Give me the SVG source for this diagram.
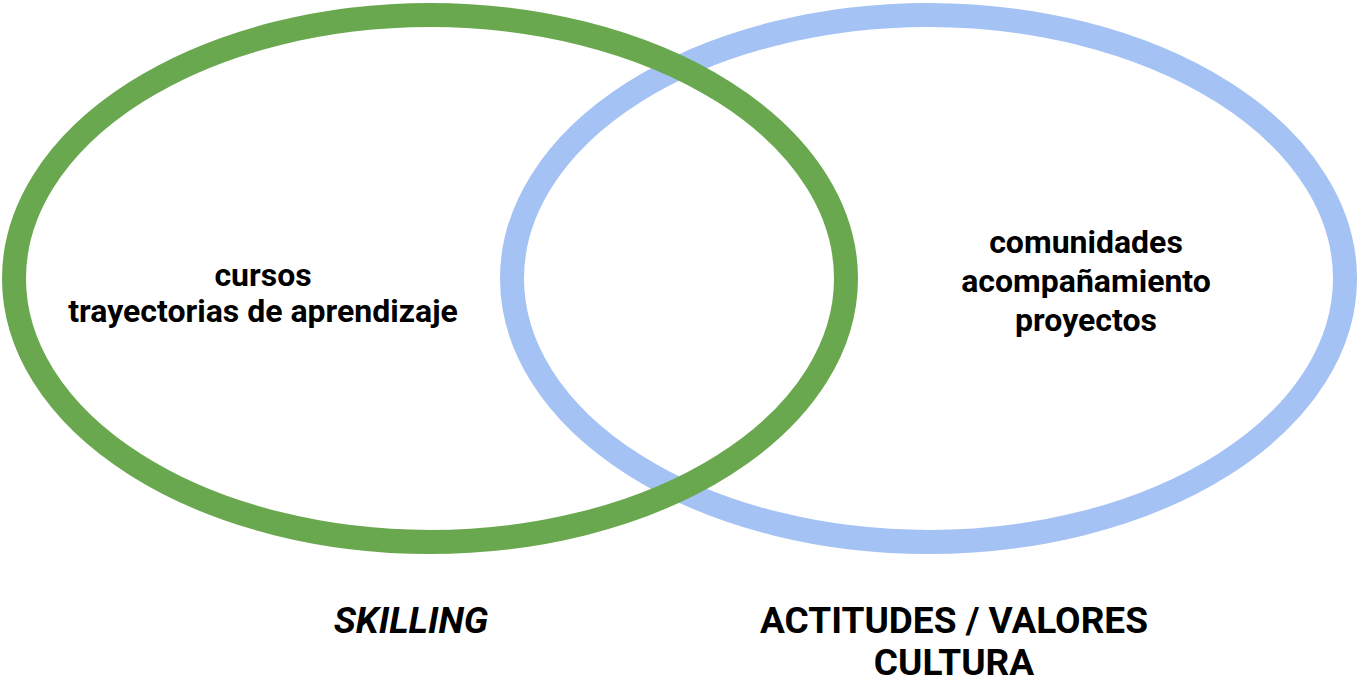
<svg xmlns="http://www.w3.org/2000/svg" width="1357" height="684" viewBox="0 0 1357 684">
<style>
.ring{fill:none;stroke-width:24}
.t{font-family:Roboto,"Liberation Sans",sans-serif;font-weight:bold;fill:#000;text-anchor:middle}
.in{font-size:32px}
.lab{font-size:37px}
</style>
<rect width="1357" height="684" fill="#fff"/>
<g id="actitudes">
<ellipse class="ring" cx="928.5" cy="278.5" rx="416.5" ry="263.5" stroke="#a4c2f4"/>
<text class="t in" x="1086" y="253">comunidades</text>
<text class="t in" x="1086" y="292">acompañamiento</text>
<text class="t in" x="1086" y="331">proyectos</text>
<text class="t lab" x="954" y="633">ACTITUDES / VALORES</text>
<text class="t lab" x="954" y="675">CULTURA</text>
</g>
<g id="skilling">
<ellipse class="ring" cx="430" cy="278.5" rx="416" ry="263.5" stroke="#6aa84f"/>
<text class="t in" x="263" y="286">cursos</text>
<text class="t in" x="263" y="322">trayectorias de aprendizaje</text>
<text class="t lab" x="411" y="633" font-style="italic">SKILLING</text>
</g>
<g id="connectors"/>
</svg>
